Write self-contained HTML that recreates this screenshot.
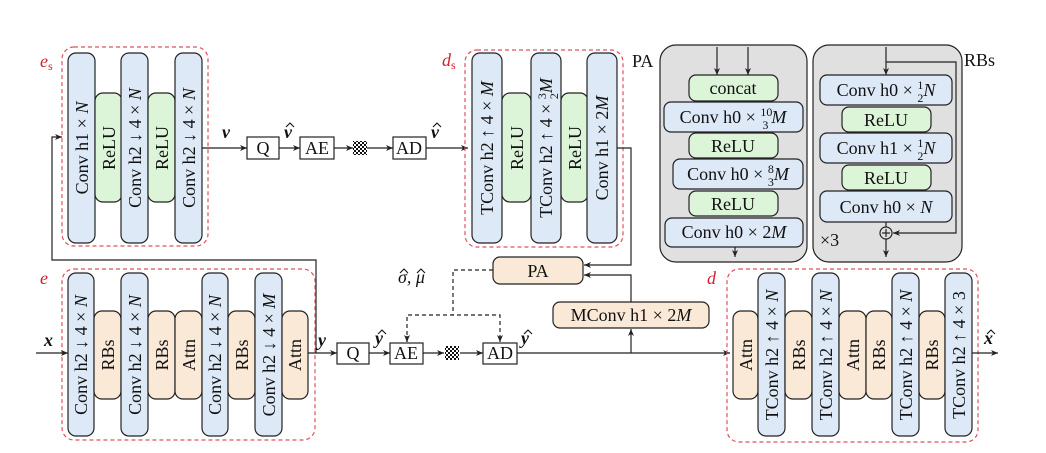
<!DOCTYPE html>
<html><head><meta charset="utf-8"><style>
html,body{margin:0;padding:0;background:#fff;}
svg{display:block;font-family:"Liberation Serif","Times New Roman",Times,"DejaVu Serif",serif;}
text{font-family:"Liberation Serif","Times New Roman",Times,"DejaVu Serif",serif;font-size:18px;fill:#111}
.b{fill:#dde9f7;stroke:#222;stroke-width:1.2}
.g{fill:#dcf5d8;stroke:#222;stroke-width:1.2}
.p{fill:#fbe9d7;stroke:#222;stroke-width:1.2}
.bx{fill:#fff;stroke:#222;stroke-width:1.2}
.dash{fill:none;stroke:#e05060;stroke-width:1.2;stroke-dasharray:4 3}
.ln{fill:none;stroke:#222;stroke-width:1.2}
.dl{fill:none;stroke:#222;stroke-width:1.2;stroke-dasharray:4 3}
.red{fill:#d0202f;font-style:italic}
.bi{font-weight:bold;font-style:italic}
.fr{font-size:12px}
.hat{fill:none;stroke:#111;stroke-width:1.1}
</style></head><body>
<svg width="1046" height="453" viewBox="0 0 1046 453" xmlns="http://www.w3.org/2000/svg" font-family="Liberation Serif, serif">
<defs>
<marker id="a" markerWidth="8" markerHeight="8" refX="7" refY="4" orient="auto" markerUnits="userSpaceOnUse"><path d="M0,1 L7,4 L0,7 L2,4 z" fill="#222"/></marker>
<pattern id="ck" width="4" height="4" patternUnits="userSpaceOnUse"><rect width="2" height="2" fill="#111"/><rect x="2" y="2" width="2" height="2" fill="#111"/></pattern>
</defs>

<!-- es -->
<rect class="dash" x="62" y="47" width="146" height="199" rx="12"/>
<text class="red" x="40" y="67">e<tspan font-size="12" font-style="normal" dy="3">s</tspan></text>
<rect class="b" x="68" y="53" width="27" height="190" rx="8"/>
<rect class="g" x="95" y="93" width="27" height="109" rx="8"/>
<rect class="b" x="121" y="53" width="27" height="190" rx="8"/>
<rect class="g" x="148" y="93" width="27" height="109" rx="8"/>
<rect class="b" x="175" y="53" width="27" height="190" rx="8"/>
<text text-anchor="middle" transform="translate(88,148) rotate(-90)">Conv h1 × <tspan font-style="italic">N</tspan></text>
<text text-anchor="middle" transform="translate(115,148) rotate(-90)">ReLU</text>
<text text-anchor="middle" transform="translate(141,148) rotate(-90)">Conv h2 ↓ 4 × <tspan font-style="italic">N</tspan></text>
<text text-anchor="middle" transform="translate(168,148) rotate(-90)">ReLU</text>
<text text-anchor="middle" transform="translate(195,148) rotate(-90)">Conv h2 ↓ 4 × <tspan font-style="italic">N</tspan></text>

<!-- top chain -->
<line class="ln" x1="202" y1="148" x2="247" y2="148" marker-end="url(#a)"/>
<text x="222" y="138" class="bi">ν</text>
<rect class="bx" x="247" y="137" width="32" height="22"/>
<text x="263" y="154" text-anchor="middle">Q</text>
<line class="ln" x1="279" y1="148" x2="300" y2="148" marker-end="url(#a)"/>
<text x="284" y="138" class="bi">ν</text><polyline class="hat" points="286,127 290,123 294,127"/>
<rect class="bx" x="300" y="137" width="34" height="22"/>
<text x="317" y="154" text-anchor="middle">AE</text>
<line class="ln" x1="334" y1="148" x2="353" y2="148" marker-end="url(#a)"/>
<rect x="353" y="141" width="14" height="14" fill="url(#ck)"/>
<line class="ln" x1="367" y1="148" x2="393" y2="148" marker-end="url(#a)"/>
<rect class="bx" x="393" y="137" width="33" height="22"/>
<text x="409" y="154" text-anchor="middle">AD</text>
<line class="ln" x1="426" y1="148" x2="468" y2="148" marker-end="url(#a)"/>
<text x="431" y="138" class="bi">ν</text><polyline class="hat" points="433,127 437,123 441,127"/>

<!-- ds -->
<rect class="dash" x="465" y="50" width="158" height="197" rx="12"/>
<text class="red" x="442" y="66">d<tspan font-size="12" font-style="normal" dy="3">s</tspan></text>
<rect class="b" x="472" y="53" width="30" height="190" rx="8"/>
<rect class="g" x="502" y="93" width="29" height="109" rx="8"/>
<rect class="b" x="531" y="53" width="30" height="190" rx="8"/>
<rect class="g" x="561" y="93" width="27" height="109" rx="8"/>
<rect class="b" x="587" y="53" width="30" height="190" rx="8"/>
<text text-anchor="middle" transform="translate(493,148) rotate(-90)">TConv h2 ↑ 4 × <tspan font-style="italic">M</tspan></text>
<text text-anchor="middle" transform="translate(523,148) rotate(-90)">ReLU</text>
<text text-anchor="middle" transform="translate(552,148) rotate(-90)">TConv h2 ↑ 4 × <tspan class="fr" dy="-6">3</tspan><tspan class="fr" dx="-6" dy="12">2</tspan><tspan font-style="italic" dy="-6">M</tspan></text>
<text text-anchor="middle" transform="translate(581,148) rotate(-90)">ReLU</text>
<text text-anchor="middle" transform="translate(608,148) rotate(-90)">Conv h1 × 2<tspan font-style="italic">M</tspan></text>
<polyline class="ln" points="617,148 631,148 631,265 584,265" marker-end="url(#a)"/>

<!-- feedback -->
<polyline class="ln" points="316,353 316,260 52,260 52,137 62,137" marker-end="url(#a)"/>

<!-- e -->
<rect class="dash" x="62" y="269" width="253" height="171" rx="12"/>
<text class="red" x="40" y="284">e</text>
<rect class="b" x="68" y="273" width="26" height="163" rx="8"/>
<rect class="p" x="94" y="311" width="27" height="88" rx="8"/>
<rect class="b" x="121" y="273" width="27" height="163" rx="8"/>
<rect class="p" x="148" y="311" width="27" height="88" rx="8"/>
<rect class="p" x="175" y="311" width="27" height="88" rx="8"/>
<rect class="b" x="202" y="273" width="26" height="163" rx="8"/>
<rect class="p" x="228" y="311" width="27" height="88" rx="8"/>
<rect class="b" x="255" y="273" width="27" height="163" rx="8"/>
<rect class="p" x="282" y="311" width="26" height="88" rx="8"/>
<text text-anchor="middle" transform="translate(87,355) rotate(-90)">Conv h2 ↓ 4 × <tspan font-style="italic">N</tspan></text>
<text text-anchor="middle" transform="translate(114,355) rotate(-90)">RBs</text>
<text text-anchor="middle" transform="translate(141,355) rotate(-90)">Conv h2 ↓ 4 × <tspan font-style="italic">N</tspan></text>
<text text-anchor="middle" transform="translate(168,355) rotate(-90)">RBs</text>
<text text-anchor="middle" transform="translate(195,355) rotate(-90)">Attn</text>
<text text-anchor="middle" transform="translate(221,355) rotate(-90)">Conv h2 ↓ 4 × <tspan font-style="italic">N</tspan></text>
<text text-anchor="middle" transform="translate(248,355) rotate(-90)">RBs</text>
<text text-anchor="middle" transform="translate(275,355) rotate(-90)">Conv h2 ↓ 4 × <tspan font-style="italic">M</tspan></text>
<text text-anchor="middle" transform="translate(301,355) rotate(-90)">Attn</text>
<line class="ln" x1="36" y1="353" x2="68" y2="353" marker-end="url(#a)"/>
<text x="44" y="346" class="bi">x</text>

<!-- bottom chain -->
<line class="ln" x1="308" y1="353" x2="337" y2="353" marker-end="url(#a)"/>
<text x="318" y="346" class="bi">y</text>
<rect class="bx" x="337" y="343" width="32" height="21"/>
<text x="353" y="359" text-anchor="middle">Q</text>
<line class="ln" x1="369" y1="353" x2="390" y2="353" marker-end="url(#a)"/>
<text x="375" y="344" class="bi">y</text><polyline class="hat" points="378,334 382,330 386,334"/>
<rect class="bx" x="390" y="343" width="33" height="21"/>
<text x="406" y="359" text-anchor="middle">AE</text>
<line class="ln" x1="423" y1="353" x2="444" y2="353" marker-end="url(#a)"/>
<rect x="445" y="346" width="14" height="14" fill="url(#ck)"/>
<line class="ln" x1="460" y1="353" x2="483" y2="353" marker-end="url(#a)"/>
<rect class="bx" x="483" y="343" width="34" height="21"/>
<text x="500" y="359" text-anchor="middle">AD</text>
<text x="521" y="344" class="bi">y</text><polyline class="hat" points="524,334 528,330 532,334"/>
<line class="ln" x1="517" y1="353" x2="730" y2="353" marker-end="url(#a)"/>

<!-- PA & MConv -->
<rect class="p" x="493" y="257" width="90" height="27" rx="7"/>
<text x="538" y="277" text-anchor="middle">PA</text>
<rect class="p" x="553" y="302" width="156" height="26" rx="7"/>
<text x="631" y="321" text-anchor="middle">MConv h1 × 2<tspan font-style="italic">M</tspan></text>
<line class="ln" x1="631" y1="353" x2="631" y2="329" marker-end="url(#a)"/>
<polyline class="ln" points="631,302 631,275 584,275" marker-end="url(#a)"/>
<polyline class="dl" points="493,270 453,270 453,315"/>
<polyline class="dl" points="407,342 407,315 500,315 500,342"/>
<line class="ln" x1="407" y1="336" x2="407" y2="342" marker-end="url(#a)"/>
<line class="ln" x1="500" y1="336" x2="500" y2="342" marker-end="url(#a)"/>
<text x="398" y="283" font-style="italic">σ, μ</text>
<polyline class="hat" points="400,273 404,269 408,273"/><polyline class="hat" points="417,273 421,269 425,273"/>

<!-- d -->
<rect class="dash" x="727" y="269" width="251" height="173" rx="12"/>
<text class="red" x="707" y="284">d</text>
<rect class="p" x="733" y="311" width="25" height="88" rx="8"/>
<rect class="b" x="758" y="273" width="27" height="163" rx="8"/>
<rect class="p" x="785" y="311" width="27" height="88" rx="8"/>
<rect class="b" x="812" y="273" width="27" height="163" rx="8"/>
<rect class="p" x="839" y="311" width="27" height="88" rx="8"/>
<rect class="p" x="866" y="311" width="26" height="88" rx="8"/>
<rect class="b" x="892" y="273" width="27" height="163" rx="8"/>
<rect class="p" x="919" y="311" width="26" height="88" rx="8"/>
<rect class="b" x="945" y="273" width="27" height="163" rx="8"/>
<text text-anchor="middle" transform="translate(752,355) rotate(-90)">Attn</text>
<text text-anchor="middle" transform="translate(778,355) rotate(-90)">TConv h2 ↑ 4 × <tspan font-style="italic">N</tspan></text>
<text text-anchor="middle" transform="translate(805,355) rotate(-90)">RBs</text>
<text text-anchor="middle" transform="translate(832,355) rotate(-90)">TConv h2 ↑ 4 × <tspan font-style="italic">N</tspan></text>
<text text-anchor="middle" transform="translate(859,355) rotate(-90)">Attn</text>
<text text-anchor="middle" transform="translate(885,355) rotate(-90)">RBs</text>
<text text-anchor="middle" transform="translate(912,355) rotate(-90)">TConv h2 ↑ 4 × <tspan font-style="italic">N</tspan></text>
<text text-anchor="middle" transform="translate(938,355) rotate(-90)">RBs</text>
<text text-anchor="middle" transform="translate(965,355) rotate(-90)">TConv h2 ↑ 4 × 3</text>
<line class="ln" x1="972" y1="353" x2="998" y2="353" marker-end="url(#a)"/>
<text x="984" y="344" class="bi">x</text><polyline class="hat" points="987,334 991,330 995,334"/>

<!-- PA panel -->
<rect x="660" y="45" width="147" height="217" rx="16" fill="#e0e0e0" stroke="#222" stroke-width="1.2"/>
<text x="632" y="67">PA</text>
<line class="ln" x1="717" y1="47" x2="717" y2="75" marker-end="url(#a)"/>
<line class="ln" x1="748" y1="47" x2="748" y2="75" marker-end="url(#a)"/>
<rect class="g" x="689" y="75" width="89" height="26" rx="7"/>
<text x="733" y="94" text-anchor="middle">concat</text>
<rect class="b" x="664" y="102" width="139" height="30" rx="7"/>
<text x="733" y="123" text-anchor="middle">Conv h0 × <tspan class="fr" dy="-7">10</tspan><tspan class="fr" dx="-10" dy="13">3</tspan><tspan font-style="italic" dx="3" dy="-6">M</tspan></text>
<rect class="g" x="689" y="133" width="89" height="25" rx="7"/>
<text x="733" y="152" text-anchor="middle">ReLU</text>
<rect class="b" x="673" y="159" width="130" height="30" rx="7"/>
<text x="738" y="180" text-anchor="middle">Conv h0 × <tspan class="fr" dy="-7">8</tspan><tspan class="fr" dx="-6" dy="13">3</tspan><tspan font-style="italic" dy="-6">M</tspan></text>
<rect class="g" x="689" y="191" width="89" height="25" rx="7"/>
<text x="733" y="210" text-anchor="middle">ReLU</text>
<rect class="b" x="665" y="218" width="138" height="29" rx="7"/>
<text x="734" y="238" text-anchor="middle">Conv h0 × 2<tspan font-style="italic">M</tspan></text>
<line class="ln" x1="735" y1="247" x2="735" y2="257" marker-end="url(#a)"/>

<!-- RBs panel -->
<rect x="813" y="45" width="149" height="217" rx="16" fill="#e0e0e0" stroke="#222" stroke-width="1.2"/>
<text x="964" y="66">RBs</text>
<line class="ln" x1="886" y1="47" x2="886" y2="75" marker-end="url(#a)"/>
<polyline class="ln" points="886,62 956,62 956,233 893,233" marker-end="url(#a)"/>
<rect class="b" x="820" y="75" width="132" height="30" rx="7"/>
<text x="886" y="96" text-anchor="middle">Conv h0 × <tspan class="fr" dy="-7">1</tspan><tspan class="fr" dx="-6" dy="13">2</tspan><tspan font-style="italic" dy="-6">N</tspan></text>
<rect class="g" x="842" y="107" width="89" height="25" rx="7"/>
<text x="886" y="126" text-anchor="middle">ReLU</text>
<rect class="b" x="820" y="133" width="132" height="30" rx="7"/>
<text x="886" y="154" text-anchor="middle">Conv h1 × <tspan class="fr" dy="-7">1</tspan><tspan class="fr" dx="-6" dy="13">2</tspan><tspan font-style="italic" dy="-6">N</tspan></text>
<rect class="g" x="842" y="165" width="89" height="25" rx="7"/>
<text x="886" y="184" text-anchor="middle">ReLU</text>
<rect class="b" x="820" y="191" width="132" height="31" rx="7"/>
<text x="886" y="213" text-anchor="middle">Conv h0 × <tspan font-style="italic">N</tspan></text>
<line class="ln" x1="886" y1="222" x2="886" y2="227"/>
<circle cx="886" cy="233" r="6" fill="none" stroke="#222" stroke-width="1.2"/>
<line class="ln" x1="882" y1="233" x2="890" y2="233"/><line class="ln" x1="886" y1="229" x2="886" y2="237"/>
<line class="ln" x1="886" y1="239" x2="886" y2="257" marker-end="url(#a)"/>
<text x="820" y="246" font-size="16">×3</text>
</svg>
</body></html>
